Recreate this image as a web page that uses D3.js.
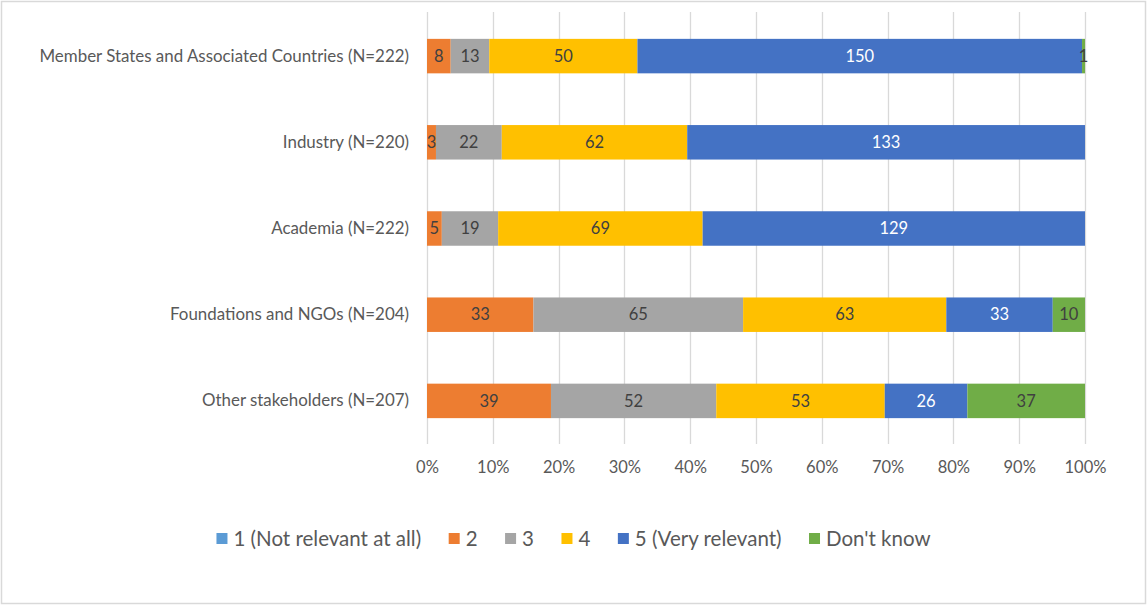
<!DOCTYPE html>
<html>
<head>
<meta charset="utf-8">
<script src="https://cdn.jsdelivr.net/npm/d3@7"></script>
<style>
  html, body { margin: 0; padding: 0; background: #fff; }
  svg { display: block; }
  text { font-family: Lato, "Open Sans", sans-serif; }
</style>
</head>
<body>
<svg id="chart" width="1147" height="605"></svg>
<script>
const categories = [
  "Member States and Associated Countries (N=222)",
  "Industry (N=220)",
  "Academia (N=222)",
  "Foundations and NGOs (N=204)",
  "Other stakeholders (N=207)"
];
const seriesNames = ["1 (Not relevant at all)", "2", "3", "4", "5 (Very relevant)", "Don't know"];
const seriesColors = ["#5B9BD5", "#ED7D31", "#A5A5A5", "#FFC000", "#4472C4", "#70AD47"];
const s1 = [0, 0, 0, 0, 0];
const s2 = [8, 3, 5, 33, 39];
const s3 = [13, 22, 19, 65, 52];
const s4 = [50, 62, 69, 63, 53];
const s5 = [150, 133, 129, 33, 26];
const sDK = [1, 0, 0, 10, 37];
const tickValues = [0, 0.1, 0.2, 0.3, 0.4, 0.5, 0.6, 0.7, 0.8, 0.9, 1.0];

const seriesValues = [s1, s2, s3, s4, s5, sDK];

const svg = d3.select("#chart");
const W = 1147, H = 605;

// border
svg.append("rect").attr("x", 1.5).attr("y", 1.5).attr("width", W - 3).attr("height", H - 3)
  .attr("fill", "#fff").attr("stroke", "#d9d9d9").attr("stroke-width", 1.5);

const x = d3.scaleLinear().domain([0, 1]).range([427, 1085]);
const y = d3.scaleBand().domain(categories).range([13, 444]).paddingInner(0.6).paddingOuter(0.3);

// gridlines
svg.append("g").selectAll("line").data(tickValues).join("line")
  .attr("x1", d => Math.round(x(d)) + 0.5).attr("x2", d => Math.round(x(d)) + 0.5)
  .attr("y1", 12).attr("y2", 444)
  .attr("stroke", "#d9d9d9").attr("stroke-width", 1.3);

// x axis
const xAxis = d3.axisBottom(x).tickValues(tickValues).tickFormat(d3.format(".0%")).tickSize(0).tickPadding(0);
const gx = svg.append("g").attr("transform", "translate(0,467)").call(xAxis);
gx.select(".domain").remove();
gx.selectAll("text").attr("fill", "#595959").style("font-size", "16.5px").attr("dy", "0.35em");

// y axis labels
const yAxis = d3.axisLeft(y).tickSize(0).tickPadding(0);
const gy = svg.append("g").attr("transform", "translate(409,0)").call(yAxis);
gy.select(".domain").remove();
gy.selectAll("text").attr("fill", "#595959").style("font-size", "16.9px");

// stack
const rows = categories.map((c, i) => {
  const o = { cat: c };
  seriesNames.forEach((s, j) => o[s] = seriesValues[j][i]);
  o.total = seriesValues.reduce((a, arr) => a + arr[i], 0);
  return o;
});
const stack = d3.stack().keys(seriesNames).value((d, k) => d[k] / d.total);
const stacked = stack(rows);

const color = d3.scaleOrdinal().domain(seriesNames).range(seriesColors);

const layers = svg.append("g").selectAll("g").data(stacked).join("g")
  .attr("fill", d => color(d.key));

layers.selectAll("rect").data(d => d.map(v => Object.assign(v, { key: d.key }))).join("rect")
  .attr("x", d => x(d[0]))
  .attr("width", d => Math.max(0, x(d[1]) - x(d[0])))
  .attr("y", d => y(d.data.cat))
  .attr("height", y.bandwidth());

// labels
const labelColor = k => (k === "5 (Very relevant)") ? "#ffffff" : "#404040";
layers.selectAll("text").data(d => d.filter(v => v.data[d.key] > 0)).join("text")
  .attr("x", d => (x(d[0]) + x(d[1])) / 2)
  .attr("y", d => y(d.data.cat) + y.bandwidth() / 2)
  .attr("dy", "0.35em")
  .attr("text-anchor", "middle")
  .attr("fill", d => labelColor(d.key))
  .style("font-size", "16.5px")
  .text(d => d.data[d.key]);

// legend
const legendItems = seriesNames.map((n, i) => ({ name: n, color: seriesColors[i] }));
const lg = svg.append("g").attr("transform", "translate(0,539)");
const fs = "20.5px";
const tmp = lg.append("text").style("font-size", fs);
const widths = legendItems.map(d => { tmp.text(d.name); return tmp.node().getComputedTextLength(); });
tmp.remove();
const gap = 27.5, sw = 11, spad = 6;
const totalW = d3.sum(widths) + legendItems.length * (sw + spad) + gap * (legendItems.length - 1);
let cx = (W - totalW) / 2 + 0;
legendItems.forEach((d, i) => {
  lg.append("rect").attr("x", cx).attr("y", -6).attr("width", sw).attr("height", sw).attr("fill", d.color);
  lg.append("text").attr("x", cx + sw + spad).attr("y", 0).attr("dy", "0.35em")
    .attr("fill", "#595959").style("font-size", fs).text(d.name);
  cx += sw + spad + widths[i] + gap;
});
</script>
</body>
</html>
